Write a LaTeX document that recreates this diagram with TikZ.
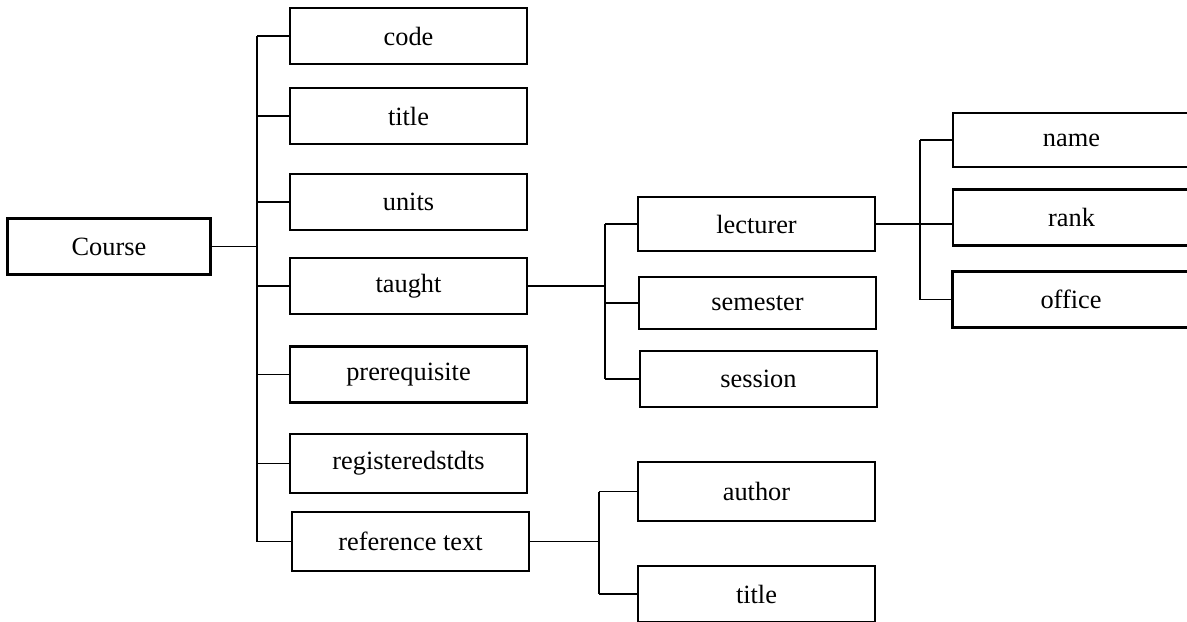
\documentclass[tikz,border=0pt]{standalone}
\usepackage{fontspec}
\setmainfont{Liberation Serif}
\usetikzlibrary{positioning}
\tikzset{field/.style={draw, line width=1.3pt, minimum width=4.74cm, minimum height=1.12cm,
    inner sep=0pt, font=\fontsize{15}{18}\selectfont}}
\tikzset{link/.style={line width=.8pt}}

\begin{document}
\begin{tikzpicture}[x=.02cm, y=-.02cm]
      \useasboundingbox (0, 0) rectangle (1187, 622);
      \clip (0, 0) rectangle (1187, 622);
      % nodes
      \node[field, minimum width=4.06cm] (course) at (109, 246.5) {Course};
      \node[field] (code) at (408.5, 36) {code};
      \node[field] (title) at (408.5, 116) {title};
      \node[field] (units) at (408.5, 202) {units};
      \node[field] (taught) at (408.5, 286) {taught};
      \node[field] (prereq) at (408.5, 374.5) {prerequisite};
      \node[field, minimum height=1.18cm] (regstd) at (408.5, 463.5) {registeredstdts};
      \node[field, minimum height=1.18cm] (reftext) at (410.5, 541.5) {reference text};
      \node[field, minimum height=1.08cm] (lecturer) at (756.5, 224) {lecturer};
      \node[field, minimum height=1.04cm] (semester) at (757.5, 303) {semester};
      \node[field] (session) at (758.5, 379) {session};
      \node[field, minimum height=1.08cm] (name) at (1071.5, 140) {name};
      \node[field] (rank) at (1071.5, 217.5) {rank};
      \node[field] (office) at (1071, 299.5) {office};
      \node[field, minimum height=1.18cm] (author) at (756.5, 491.5) {author};
      \node[field] (titleb) at (756.5, 594) {title};
      % trunks
      \coordinate (trunk) at (257, 0);
      \coordinate (tauTrunk) at (605, 0);
      \coordinate (lecTrunk) at (920, 0);
      \coordinate (refTrunk) at (599, 0);
      % lines
      \draw[link] (course.east) -- (trunk |- course.east);
      \draw[link] (trunk |- code.west) -- (trunk |- reftext.west);
      \foreach \n in {code, title, units, taught, prereq, regstd, reftext}
        \draw[link] (trunk |- \n.west) -- (\n.west);
      \draw[link] (taught.east) -- (tauTrunk |- taught.east);
      \draw[link] (tauTrunk |- lecturer.west) -- (tauTrunk |- session.west);
      \foreach \n in {lecturer, semester, session}
        \draw[link] (tauTrunk |- \n.west) -- (\n.west);
      \draw[link] (lecturer.east) -- (rank.west |- lecturer.east);
      \draw[link] (lecTrunk |- name.west) -- (lecTrunk |- office.west);
      \draw[link] (lecTrunk |- name.west) -- (name.west);
      \draw[link] (lecTrunk |- office.west) -- (office.west);
      \draw[link] (reftext.east) -- (refTrunk |- reftext.east);
      \draw[link] (refTrunk |- author.west) -- (refTrunk |- titleb.west);
      \draw[link] (refTrunk |- author.west) -- (author.west);
      \draw[link] (refTrunk |- titleb.west) -- (titleb.west);
    \end{tikzpicture}
\end{document}
